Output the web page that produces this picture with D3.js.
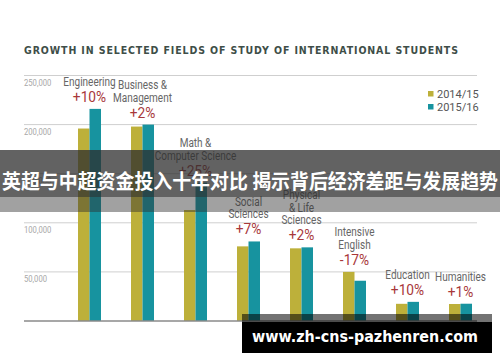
<!DOCTYPE html>
<html lang="en">
<head>
<meta charset="UTF-8">
<title>Growth in selected fields of study</title>
<script src="https://d3js.org/d3.v7.min.js"></script>
<style>
  body { margin: 0; padding: 0; background: #fff; }
  svg { display: block; }
  .cond { font-family: Roboto, "Liberation Sans", sans-serif; }
</style>
</head>
<body>
<svg width="500" height="362"></svg>
<script>
const categories = [
  ["Engineering"],
  ["Business &", "Management"],
  ["Math &", "Computer Science"],
  ["Social", "Sciences"],
  ["Physical", "& Life", "Sciences"],
  ["Intensive", "English"],
  ["Education"],
  ["Humanities"]
];
const changes = ["+10%", "+2%", "+25%", "+7%", "+2%", "-17%", "+10%", "+1%"];
const series = ["2014/15", "2015/16"];
const values1415 = [196000, 198000, 113000, 76000, 74000, 50000, 17500, 17300];
const values1516 = [216000, 200000, 141000, 81000, 75000, 41000, 19500, 17600];
const yTicks = [50000, 100000, 150000, 200000, 250000];

const colors = { "2014/15": "#bdb03a", "2015/16": "#17939f" };

const svg = d3.select("svg");

const y = d3.scaleLinear().domain([0, 250000]).range([321, 75.5]);
const x = d3.scaleBand()
  .domain(d3.range(categories.length))
  .range([78, 472])
  .paddingInner(0.566)
  .paddingOuter(0);
const xs = d3.scaleBand().domain(series).range([0, x.bandwidth()]);

// title
svg.append("text")
  .attr("x", 24).attr("y", 54)
  .attr("textLength", 434).attr("lengthAdjust", "spacing")
  .attr("font-family", "'DejaVu Sans Condensed', 'DejaVu Sans', sans-serif")
  .attr("font-weight", "bold").attr("font-size", 10.5)
  .attr("fill", "#3e4e48")
  .text("GROWTH IN SELECTED FIELDS OF STUDY OF INTERNATIONAL STUDENTS");

// gridlines
svg.selectAll(".grid")
  .data(yTicks)
  .enter().append("line")
  .attr("x1", 24).attr("x2", 477)
  .attr("y1", d => y(d)).attr("y2", d => y(d))
  .attr("stroke", "#cfcfcf").attr("stroke-width", 1);

svg.selectAll(".tick-label")
  .data(yTicks)
  .enter().append("text")
  .attr("class", "cond")
  .attr("transform", d => `translate(24,${y(d) + 10.5}) scale(0.85,1)`)
  .attr("font-size", 9).attr("fill", "#a8a8a8")
  .text(d => d3.format(",")(d));

// bars
const rows = categories.map((c, i) => ({ i, vals: [values1415[i], values1516[i]] }));
const groups = svg.selectAll(".grp")
  .data(rows)
  .enter().append("g")
  .attr("transform", d => `translate(${x(d.i)},0)`);

groups.selectAll("rect")
  .data(d => series.map((s, k) => ({ s, v: d.vals[k] })))
  .enter().append("rect")
  .attr("x", d => xs(d.s))
  .attr("width", xs.bandwidth())
  .attr("y", d => y(d.v))
  .attr("height", d => y(0) - y(d.v))
  .attr("fill", d => colors[d.s]);

// baseline
svg.append("line")
  .attr("x1", 24).attr("x2", 477)
  .attr("y1", y(0)).attr("y2", y(0))
  .attr("stroke", "#8a8a8a").attr("stroke-width", 1.5);

// category labels and changes (narrowed to mimic a condensed face)
rows.forEach(d => {
  const cx = x(d.i) + x.bandwidth() / 2;
  const base = y(d3.max(d.vals)) - 7;
  svg.append("text")
    .attr("class", "cond")
    .attr("transform", `translate(${cx},${base}) scale(0.95,1)`)
    .attr("text-anchor", "middle")
    .attr("font-size", 14.5).attr("fill", "#a8383a")
    .text(changes[d.i]);
  const lines = categories[d.i];
  lines.forEach((t, k) => {
    svg.append("text")
      .attr("class", "cond")
      .attr("transform", `translate(${cx},${base - 16 - (lines.length - 1 - k) * 12.5}) scale(0.77,1)`)
      .attr("text-anchor", "middle")
      .attr("font-size", 13).attr("fill", "#666")
      .text(t);
  });
});

// legend
const legend = svg.selectAll(".legend")
  .data(series)
  .enter().append("g")
  .attr("transform", (d, i) => `translate(428,${91 + i * 13})`);
legend.append("rect")
  .attr("width", 5.5).attr("height", 5.5)
  .attr("fill", d => colors[d]);
legend.append("text")
  .attr("class", "cond")
  .attr("x", 9).attr("y", 6.5)
  .attr("font-size", 11).attr("fill", "#555")
  .text(d => d);

// overlay banner
svg.append("rect")
  .attr("x", 0).attr("y", 150).attr("width", 500).attr("height", 47)
  .attr("fill", "#2e2e2e").attr("opacity", 0.75);
svg.append("rect")
  .attr("x", 0).attr("y", 197).attr("width", 500).attr("height", 15)
  .attr("fill", "#2e2e2e").attr("opacity", 0.45);
svg.append("text")
  .attr("x", 250).attr("y", 189)
  .attr("text-anchor", "middle")
  .attr("textLength", 496).attr("lengthAdjust", "spacingAndGlyphs")
  .attr("font-family", "'Noto Sans CJK SC', sans-serif")
  .attr("font-weight", "bold").attr("font-size", 20)
  .attr("fill", "#fff")
  .text("英超与中超资金投入十年对比 揭示背后经济差距与发展趋势");

// watermark box
svg.append("rect")
  .attr("x", 242).attr("y", 314).attr("width", 250).attr("height", 8)
  .attr("fill", "#000").attr("opacity", 0.55);
svg.append("rect")
  .attr("x", 242).attr("y", 322).attr("width", 250).attr("height", 31)
  .attr("fill", "#000");
svg.append("text")
  .attr("x", 252).attr("y", 342)
  .attr("textLength", 226).attr("lengthAdjust", "spacingAndGlyphs")
  .attr("font-family", "'DejaVu Sans', sans-serif")
  .attr("font-weight", "bold").attr("font-size", 15)
  .attr("fill", "#fff")
  .text("www.zh-cns-pazhenren.com");
</script>
</body>
</html>
